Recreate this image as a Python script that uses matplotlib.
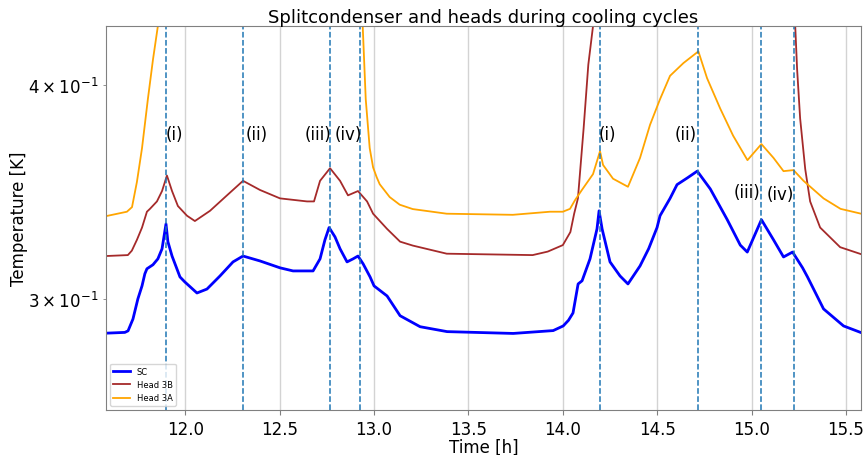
import numpy as np
import matplotlib
matplotlib.use('Agg')
import matplotlib.pyplot as plt

# SC (splitcondenser) readings
sc_t = [11.58, 11.68, 11.697, 11.723, 11.749, 11.771, 11.786, 11.797, 11.829, 11.855,
        11.877, 11.898, 11.908, 11.930, 11.972, 11.998, 12.062, 12.115, 12.184, 12.253,
        12.306, 12.396, 12.502, 12.571, 12.677, 12.714, 12.740, 12.762, 12.793, 12.820,
        12.857, 12.889, 12.915, 12.942, 12.979, 13.0, 13.069, 13.138, 13.244, 13.387,
        13.737, 13.949, 14.002, 14.030, 14.054, 14.081, 14.102, 14.144, 14.181, 14.192,
        14.208, 14.250, 14.303, 14.345, 14.409, 14.455, 14.499, 14.515, 14.568, 14.605,
        14.660, 14.712, 14.781, 14.871, 14.940, 14.977, 15.052, 15.116, 15.169, 15.217,
        15.270, 15.296, 15.381, 15.487, 15.577]
sc_T = [0.2865, 0.2868, 0.2874, 0.2920, 0.3000, 0.3053, 0.3103, 0.3124, 0.3141, 0.3166,
        0.3209, 0.3318, 0.3240, 0.3178, 0.3090, 0.3069, 0.3024, 0.3040, 0.3094, 0.3153,
        0.3178, 0.3157, 0.3128, 0.3115, 0.3115, 0.3166, 0.3248, 0.3302, 0.3261, 0.3209,
        0.3153, 0.3166, 0.3178, 0.3145, 0.3090, 0.3053, 0.3012, 0.2933, 0.2890, 0.2871,
        0.2864, 0.2875, 0.2893, 0.2915, 0.2944, 0.3061, 0.3074, 0.3166, 0.3296, 0.3377,
        0.3296, 0.3153, 0.3094, 0.3061, 0.3136, 0.3210, 0.3302, 0.3355, 0.3434, 0.3498,
        0.3530, 0.3562, 0.3478, 0.3337, 0.3225, 0.3195, 0.3337, 0.3248, 0.3174, 0.3195,
        0.3128, 0.3090, 0.2960, 0.2893, 0.2868]

# Head 3B readings
h3b_t = [11.58, 11.696, 11.717, 11.744, 11.771, 11.797, 11.813, 11.850, 11.877, 11.903,
         11.930, 11.961, 12.009, 12.051, 12.131, 12.221, 12.306, 12.396, 12.502, 12.645,
         12.682, 12.714, 12.767, 12.820, 12.862, 12.915, 12.963, 12.995, 13.069, 13.138,
         13.205, 13.385, 13.84, 13.92, 14.0, 14.04, 14.06, 14.08, 14.11, 14.135, 14.16,
         14.19, 15.225, 15.231, 15.241, 15.257, 15.284, 15.310, 15.363, 15.469, 15.58]
h3b_T = [0.3178, 0.3182, 0.3201, 0.3248, 0.3302, 0.3373, 0.3386, 0.3420, 0.3468, 0.3541,
         0.3468, 0.3399, 0.3355, 0.3331, 0.3377, 0.3448, 0.3516, 0.3473, 0.3434, 0.3420,
         0.3420, 0.3516, 0.3576, 0.3516, 0.3448, 0.3468, 0.3420, 0.3364, 0.3296, 0.3240,
         0.3223, 0.3188, 0.3182, 0.3197, 0.3225, 0.3282, 0.3364, 0.3434, 0.3771, 0.4110, 0.4329,
         0.47, 0.47, 0.4329, 0.4085, 0.3824, 0.3572, 0.3420, 0.3302, 0.3216, 0.3186]

# Head 3A readings
h3a_t = [11.58, 11.691, 11.718, 11.744, 11.771, 11.802, 11.829, 11.855, 11.875,
         12.93, 12.940, 12.956, 12.977, 12.995, 13.014, 13.030, 13.083, 13.136, 13.205, 13.385,
         13.735, 13.932, 14.0, 14.038, 14.064, 14.101, 14.160, 14.197, 14.213, 14.266,
         14.345, 14.356, 14.409, 14.462, 14.515, 14.568, 14.639, 14.718, 14.764, 14.834,
         14.902, 14.978, 15.052, 15.116, 15.169, 15.222, 15.275, 15.381, 15.471, 15.58]
h3a_T = [0.3353, 0.3373, 0.3394, 0.3511, 0.3674, 0.3924, 0.4138, 0.4329, 0.47,
         0.47, 0.4329, 0.3924, 0.3674, 0.3580, 0.3533, 0.3500, 0.3440, 0.3405, 0.3385, 0.3364,
         0.3359, 0.3373, 0.3373, 0.3386, 0.3425, 0.3473, 0.3548, 0.3659, 0.3592, 0.3526,
         0.3488, 0.3511, 0.3626, 0.3791, 0.3924, 0.4049, 0.4119, 0.4184, 0.4036, 0.3874,
         0.3736, 0.3615, 0.3694, 0.3626, 0.3562, 0.3567, 0.3516, 0.3434, 0.3386, 0.3364]

# event markers
events = [11.9, 12.305, 12.765, 12.925, 14.197, 14.717, 15.05, 15.222]
labels = ['(i)', '(ii)', '(iii)', '(iv)', '(i)', '(ii)', '(iii)', '(iv)']
label_x = [11.94, 12.38, 12.704, 12.862, 14.234, 14.653, 14.975, 15.15]
label_y = [0.3743, 0.3743, 0.3743, 0.3743, 0.3743, 0.3743, 0.3464, 0.3454]

fig = plt.figure(figsize=(8.65, 4.56), dpi=100)
ax = fig.add_axes([0.1225, 0.0987, 0.873, 0.842])

ax.plot(sc_t, sc_T, color='blue', lw=2, label='SC')
ax.plot(h3b_t, h3b_T, color='brown', lw=1.3, label='Head 3B')
ax.plot(h3a_t, h3a_T, color='orange', lw=1.3, label='Head 3A')

for e in events:
    ax.axvline(e, color='tab:blue', ls='--', lw=1.1)
for lx, ly, lab in zip(label_x, label_y, labels):
    ax.text(lx, ly, lab, ha='center', va='center', fontsize=12)

ax.set_yscale('log')
ax.set_xlim(11.58, 15.58)
ax.set_ylim(0.2584, 0.4329)
ax.grid(True, axis='x', color='lightgray', lw=1)
ax.set_axisbelow(True)
for s in ax.spines.values():
    s.set_color('gray')
ax.tick_params(colors='gray', labelcolor='black', labelsize=12)
ax.tick_params(which='minor', colors='gray', labelcolor='black', labelsize=12)

ax.set_xlabel('Time [h]', fontsize=12, labelpad=0)
ax.set_ylabel('Temperature [K]', fontsize=12, labelpad=0)
ax.set_title('Splitcondenser and heads during cooling cycles', fontsize=13, pad=3)
ax.legend(loc='lower left', fontsize=6)

plt.savefig('out.png', dpi=100)
